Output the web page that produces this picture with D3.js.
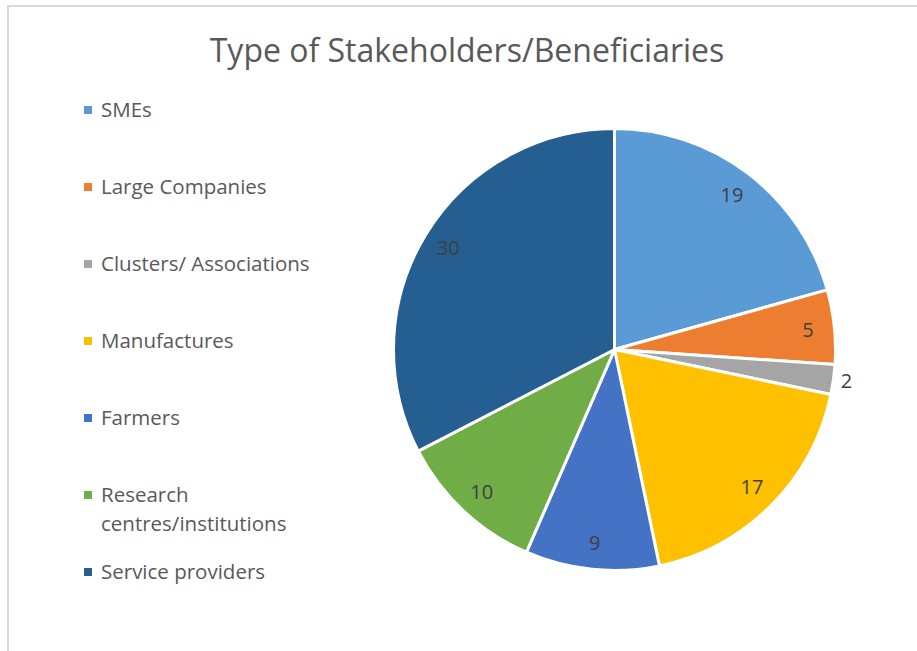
<!DOCTYPE html>
<html>
<head>
<meta charset="utf-8">
<script src="https://cdn.jsdelivr.net/npm/d3@7"></script>
<style>
  html, body { margin: 0; padding: 0; background: #fff; }
  svg { display: block; }
  text { font-family: "Open Sans", "Noto Sans", sans-serif; }
</style>
</head>
<body>
<svg id="chart" width="917" height="651"></svg>
<script>
// Stakeholder / beneficiary categories and their counts
const categories = [
  "SMEs",
  "Large Companies",
  "Clusters/ Associations",
  "Manufactures",
  "Farmers",
  "Research centres/institutions",
  "Service providers"
];
const values = [19, 5, 2, 17, 9, 10, 30];
const colors = ["#5B9BD5", "#ED7D31", "#A5A5A5", "#FFC000", "#4472C4", "#70AD47", "#255E91"];
// Legend text as it wraps across lines
const legendLines = [
  ["SMEs"],
  ["Large Companies"],
  ["Clusters/ Associations"],
  ["Manufactures"],
  ["Farmers"],
  ["Research", "centres/institutions"],
  ["Service providers"]
];
const title = "Type of Stakeholders/Beneficiaries";

const W = 917, H = 651;
const svg = d3.select("#chart");

// chart area frame (its right and bottom edges run past the page)
svg.append("rect")
  .attr("x", 8).attr("y", 6)
  .attr("width", W + 20).attr("height", H + 20)
  .attr("fill", "#fff")
  .attr("stroke", "#D9D9D9")
  .attr("stroke-width", 2);

svg.append("text")
  .attr("x", 467).attr("y", 62)
  .attr("text-anchor", "middle")
  .attr("font-size", 32)
  .attr("fill", "#595959")
  .text(title);

// pie
const cx = 614.5, cy = 349.5, R = 221;
const data = categories.map((c, i) => ({ name: c, value: values[i], color: colors[i] }));
const pie = d3.pie().value(d => d.value).sort(null);
const arcs = pie(data);
const arc = d3.arc().innerRadius(0).outerRadius(R);
const labelArc = d3.arc().innerRadius(R * 0.88).outerRadius(R * 0.88);
const outerLabelArc = d3.arc().innerRadius(R * 1.06).outerRadius(R * 1.06);

const g = svg.append("g").attr("transform", `translate(${cx},${cy})`);
g.selectAll("path.slice")
  .data(arcs)
  .join("path")
  .attr("class", "slice")
  .attr("d", arc)
  .attr("fill", d => d.data.color)
  .attr("stroke", "#fff")
  .attr("stroke-width", 3)
  .attr("stroke-linejoin", "round");

// value labels: thin slices get their label just outside the rim
g.selectAll("text.val")
  .data(arcs)
  .join("text")
  .attr("class", "val")
  .attr("transform", d => {
    const small = (d.endAngle - d.startAngle) < 0.2;
    const p = (small ? outerLabelArc : labelArc).centroid(d);
    return `translate(${p[0]},${p[1]})`;
  })
  .attr("text-anchor", "middle")
  .attr("dy", "0.35em")
  .attr("font-size", 20)
  .attr("fill", "#404040")
  .text(d => d.data.value);

// legend
const lg = svg.append("g");
const item = lg.selectAll("g.item")
  .data(data)
  .join("g")
  .attr("class", "item")
  .attr("transform", (d, i) => `translate(84,${110 + i * 77})`);
item.append("rect")
  .attr("x", 0).attr("y", -4)
  .attr("width", 8).attr("height", 8)
  .attr("fill", d => d.color);
item.each(function (d, i) {
  const t = d3.select(this).append("text")
    .attr("x", 17).attr("y", 0)
    .attr("font-size", 20.5)
    .attr("fill", "#595959");
  legendLines[i].forEach((line, j) => {
    t.append("tspan")
      .attr("x", 17)
      .attr("y", j * 29)
      .attr("dy", "0.35em")
      .text(line);
  });
});
</script>
</body>
</html>
